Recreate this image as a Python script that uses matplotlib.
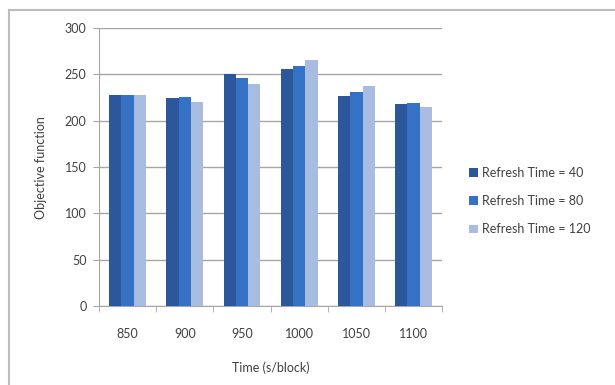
import matplotlib.pyplot as plt
import numpy as np
from matplotlib.patches import Rectangle

# Data
categories = ['850', '900', '950', '1000', '1050', '1100']
refresh_40 = [228, 225, 250, 256, 227, 218]
refresh_80 = [228, 226, 246, 259, 231, 219]
refresh_120 = [228, 220, 240, 266, 237, 215]
series_labels = ['Refresh Time = 40', 'Refresh Time = 80', 'Refresh Time = 120']
colors = ['#2C579A', '#3571C4', '#A8BCE2']

plt.rcParams['font.family'] = ['Lato', 'DejaVu Sans']

fig = plt.figure(figsize=(6.15, 3.85), dpi=100)
ax = fig.add_axes([0.161, 0.205, 0.558, 0.722])

# Outer chart border (left and top edges visible in reference)
fig.add_artist(Rectangle((9 / 615, -0.1), 1.2, (385 - 10) / 385 + 0.1,
                         transform=fig.transFigure, fill=False,
                         edgecolor='#BDBDBD', linewidth=1.5))

x = np.arange(len(categories))
bar_w = 0.215
for i, (vals, lab, col) in enumerate(zip([refresh_40, refresh_80, refresh_120], series_labels, colors)):
    ax.bar(x + (i - 1) * bar_w, vals, width=bar_w, color=col, label=lab, zorder=3)

ax.set_xlim(-0.5, len(categories) - 0.5)
ax.set_ylim(0, 300)
ax.set_yticks(range(0, 301, 50))
ax.yaxis.grid(True, color='#A6A6A6', linewidth=1, zorder=0)

ax.set_xticks(x)
ax.set_xticklabels(categories)
ax.set_xticks(np.arange(-0.5, len(categories), 1), minor=True)
ax.tick_params(axis='x', which='major', length=0, pad=16, labelsize=9, colors='#404040')
ax.tick_params(axis='x', which='minor', length=4, direction='out', color='#A6A6A6')
ax.tick_params(axis='y', length=4, direction='out', color='#A6A6A6', pad=5, labelsize=9, colors='#404040')

for side in ['top', 'right']:
    ax.spines[side].set_visible(False)
for side in ['left', 'bottom']:
    ax.spines[side].set_color('#A6A6A6')

ax.set_ylabel('Objective function', fontsize=9, color='#404040', labelpad=13)
ax.set_xlabel('Time (s/block)', fontsize=9, color='#404040', labelpad=15)

ax.legend(loc='center left', bbox_to_anchor=(1.045, 0.378), frameon=False,
          fontsize=9, handlelength=0.7, handleheight=0.7, handletextpad=0.35,
          labelspacing=1.3, labelcolor='#404040')

fig.savefig('out.png', dpi=100)
